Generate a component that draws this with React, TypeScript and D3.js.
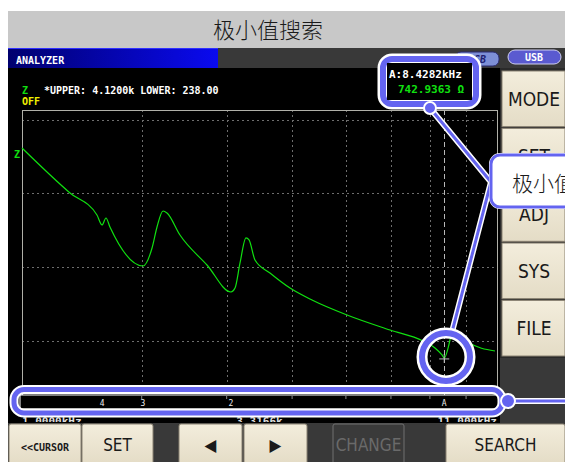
import React from 'react'
import * as d3 from 'd3'

// sweep trace (frequency in Hz, |Z| in ohm)
const FREQ = [1000, 1274, 1460, 1498, 1528, 1559, 1842, 1928, 1977, 2038, 2079, 2220, 2544, 2872, 2931, 3006, 3098, 3146, 3242, 3497, 3869, 4323, 5159, 6410, 7571, 8044, 8333, 8428, 8676, 8765, 9036, 9503, 10890]
const IMPEDANCE = [3602, 2990, 2690, 2554, 2649, 2526, 1995, 2240, 2526, 2744, 2717, 2417, 2009, 1641, 1695, 2036, 2377, 2350, 2077, 1900, 1695, 1532, 1328, 1123, 974, 878, 783, 743, 987, 1110, 1069, 960, 837]

const GRID_FREQ = [1830, 2810, 3910, 5130, 6440, 7840, 9410]
const GRID_Z = [3984, 2990, 1982, 974]

const MARKER_LABELS = ['4', '3', '2', 'A']
const MARKER_FREQ = [1498, 1842, 2872, 8428]

const AXIS_LABELS = ['1.0000kHz', '3.3166k', '11.000kHz']
const AXIS_FREQ = [1000, 3317, 11000]

const SIDE_BUTTONS = ['MODE', 'SET', 'ADJ', 'SYS', 'FILE']
const BOTTOM_BUTTONS = ['<<CURSOR', 'SET', '◀', '▶', 'CHANGE', 'SEARCH']

const W = 565
const H = 462
const MONO = '"DejaVu Sans Mono", monospace'
const NARROW = '"DejaVu Sans Condensed", "Liberation Sans Narrow", sans-serif'
const BLUE = '#6464f0'

const App: React.FC = () => {
  const x = d3.scaleLog().domain([1000, 11000]).range([22, 497])
  const y = d3.scaleLinear().domain([238, 4120]).range([395, 110])

  const pts = FREQ.map((f, i) => [f, IMPEDANCE[i]] as [number, number])
  const line = d3.line<[number, number]>()
    .x(d => x(d[0]))
    .y(d => y(d[1]))
    .curve(d3.curveMonotoneX)

  const cx = x(MARKER_FREQ[3])
  const cy = y(IMPEDANCE[FREQ.indexOf(8428)])

  // side buttons geometry
  const sideBand = d3.scaleBand<string>().domain(SIDE_BUTTONS).range([71, 356]).paddingInner(0.03)
  const bottomX = [9, 82, 179, 244, 333, 446]
  const bottomW = [72, 71, 63, 63, 71, 119]

  return (
    <svg width={W} height={H} style={{ position: 'absolute', left: 0, top: 0 }}
      fontFamily={MONO}>
      <defs>
        <linearGradient id="anl" x1="0" x2="1" y1="0" y2="0">
          <stop offset="0" stopColor="#00006e" />
          <stop offset="1" stopColor="#0a0af0" />
        </linearGradient>
        <linearGradient id="btn" x1="0" x2="0" y1="0" y2="1">
          <stop offset="0" stopColor="#f3eddc" />
          <stop offset="1" stopColor="#e4dcc6" />
        </linearGradient>
        <clipPath id="bottomClip">
          <rect x={8} y={417} width={500} height={5} />
        </clipPath>
      </defs>
      <rect width={W} height={H} fill="#fff" />

      {/* title bar */}
      <rect x={8} y={11} width={W - 8} height={37} fill="#c8c8c8" />
      <text x={268} y={38} textAnchor="middle" fontSize={22}
        fontFamily='"Noto Sans CJK SC", sans-serif' fontWeight={300} fill="#1a1a1a">极小值搜索</text>

      {/* screen */}
      <rect x={8} y={48} width={W - 8} height={H - 48} fill="#393939" />
      <rect x={8} y={48} width={210} height={20} fill="url(#anl)" />
      <line x1={8} x2={218} y1={48.5} y2={48.5} stroke="#3030ff" />
      <text x={16} y={64} fill="#fff" fontSize={10} fontWeight="bold">ANALYZER</text>

      {/* USB icons */}
      <rect x={455} y={52} width={44} height={14} rx={6} fill="#7d8fd6" stroke="#2a2a70" />
      <text x={477} y={63} textAnchor="middle" fontSize={10} fontWeight="bold"
        fontStyle="italic" fill="#202070">USB</text>
      <rect x={508} y={50} width={53} height={14} rx={7} fill="#5a5ad0" stroke="#d0d0f0" />
      <text x={534} y={61} textAnchor="middle" fontSize={10} fontWeight="bold" fill="#fff">USB</text>

      <rect x={8} y={68} width={492} height={355} fill="#000" />

      {/* header texts */}
      <text x={22} y={94} fill="#10e010" fontSize={10} fontWeight="bold">Z</text>
      <text x={44} y={94} fill="#fff" fontSize={10} fontWeight="bold">*UPPER: 4.1200k LOWER: 238.00</text>
      <text x={22} y={105} fill="#f0f000" fontSize={10} fontWeight="bold">OFF</text>

      {/* plot */}
      {GRID_Z.map(z => (
        <line key={'h' + z} x1={22} x2={497} y1={Math.round(y(z)) + 0.5} y2={Math.round(y(z)) + 0.5}
          stroke="#6e6e6e" strokeDasharray="2,3" />
      ))}
      {GRID_FREQ.map(f => (
        <line key={'v' + f} x1={Math.round(x(f)) + 0.5} x2={Math.round(x(f)) + 0.5} y1={110} y2={395}
          stroke="#6e6e6e" strokeDasharray="2,3" />
      ))}
      <line x1={Math.round(cx) + 0.5} x2={Math.round(cx) + 0.5} y1={110} y2={395}
        stroke="#b8b8b8" strokeDasharray="5,3" />
      <rect x={22.5} y={110.5} width={475} height={285} fill="none" stroke="#b0b0a8" />
      <text x={14} y={158} fill="#10e010" fontSize={10} fontWeight="bold">Z</text>

      <path d={line(pts) ?? ''} fill="none" stroke="#10e010" strokeWidth={1.2} />
      <line x1={cx - 5} x2={cx + 5} y1={cy + 1} y2={cy + 1} stroke="#bbb" />
      <line x1={cx} x2={cx} y1={cy - 4} y2={cy + 5} stroke="#bbb" />

      {/* marker bar */}
      <rect x={20} y={395} width={480} height={14} fill="#000" stroke="#fff" />
      {GRID_FREQ.map(f => (
        <line key={'t' + f} x1={x(f)} x2={x(f)} y1={396} y2={399} stroke="#888" />
      ))}
      {MARKER_LABELS.map((m, i) => (
        <text key={m} x={x(MARKER_FREQ[i])} y={406} textAnchor="middle" fill="#eee" fontSize={8}>{m}</text>
      ))}

      {/* side buttons */}
      <rect x={500} y={68} width={65} height={290} fill="#2a2a2a" />
      {SIDE_BUTTONS.map(b => (
        <g key={b}>
          <rect x={502} y={sideBand(b)} width={63} height={sideBand.bandwidth()} fill="url(#btn)"
            stroke="#8a8272" />
          <text x={534} y={(sideBand(b) ?? 0) + sideBand.bandwidth() / 2 + 7} textAnchor="middle"
            fontFamily={NARROW} fontSize={19} fill="#1a1a1a">{b}</text>
        </g>
      ))}

      {/* bottom buttons */}
      {BOTTOM_BUTTONS.map((b, i) => {
        const disabled = b === 'CHANGE'
        return (
          <g key={b + i}>
            <rect x={bottomX[i]} y={424} width={bottomW[i]} height={40} rx={2}
              fill={disabled ? '#3a3a3a' : 'url(#btn)'} stroke={disabled ? '#707070' : '#8a8272'} />
            <text x={bottomX[i] + bottomW[i] / 2} y={451} textAnchor="middle"
              fontFamily={i === 0 ? MONO : NARROW} fontWeight={i === 0 ? 'bold' : 'normal'}
              fontSize={i === 0 ? 10 : 17} fill={disabled ? '#6a6a6a' : '#1a1a1a'}>{b}</text>
          </g>
        )
      })}

      {/* annotation overlay */}
      <g fill="none" strokeLinejoin="round" strokeLinecap="round">
        {/* connector lines */}
        <polyline points={`430,108 491,182 452,332`} stroke="#fff" strokeWidth={6} />
        <polyline points={`430,108 491,182 452,332`} stroke={BLUE} strokeWidth={3} />
        <line x1={507} x2={W} y1={401} y2={401} stroke="#fff" strokeWidth={6} />
        <line x1={507} x2={W} y1={401} y2={401} stroke={BLUE} strokeWidth={3} />

        {/* readout box */}
        <rect x={383} y={59} width={93} height={45} rx={9} stroke="#fff" strokeWidth={11} />
        <rect x={383} y={59} width={93} height={45} rx={9} stroke={BLUE} strokeWidth={6} />
        <rect x={387} y={63} width={85} height={37} fill="#000" />

        {/* circle at minimum */}
        <circle cx={446} cy={357} r={24} stroke="#fff" strokeWidth={11} />
        <circle cx={446} cy={357} r={24} stroke={BLUE} strokeWidth={6} />

        {/* ring round marker bar */}
        <rect x={14} y={389.5} width={488} height={23.5} rx={10} stroke="#fff" strokeWidth={9} />
        <rect x={14} y={389.5} width={488} height={23.5} rx={10} stroke={BLUE} strokeWidth={5} />
      </g>
      <circle cx={508} cy={401} r={7} fill={BLUE} stroke="#fff" strokeWidth={2} />
      <circle cx={430} cy={108} r={6} fill={BLUE} stroke="#fff" strokeWidth={2} />

      {/* frequency labels under the bar, half hidden by the button row */}
      <g clipPath="url(#bottomClip)">
        {AXIS_LABELS.map((t, i) => (
          <text key={t} x={x(AXIS_FREQ[i])} y={425} fill="#ddd" fontSize={11} fontWeight="bold"
            textAnchor={i === 0 ? 'start' : i === 1 ? 'middle' : 'end'}>{t}</text>
        ))}
      </g>

      <text x={389} y={78} fill="#fff" fontSize={11} fontWeight="bold">A:8.4282kHz</text>
      <text x={398} y={93} fill="#10e010" fontSize={11} fontWeight="bold">742.9363 Ω</text>

      {/* callout label */}
      <rect x={491} y={155} width={100} height={52} rx={9} fill="#fff" stroke="#fff" strokeWidth={4} />
      <rect x={491} y={155} width={100} height={52} rx={9} fill="#fff" stroke={BLUE} strokeWidth={3} />
      <text x={512} y={191} fontSize={21} fontFamily='"Noto Sans CJK SC", sans-serif' fontWeight={300}
        fill="#1a1a1a">极小值</text>
    </svg>
  )
}

export default App
